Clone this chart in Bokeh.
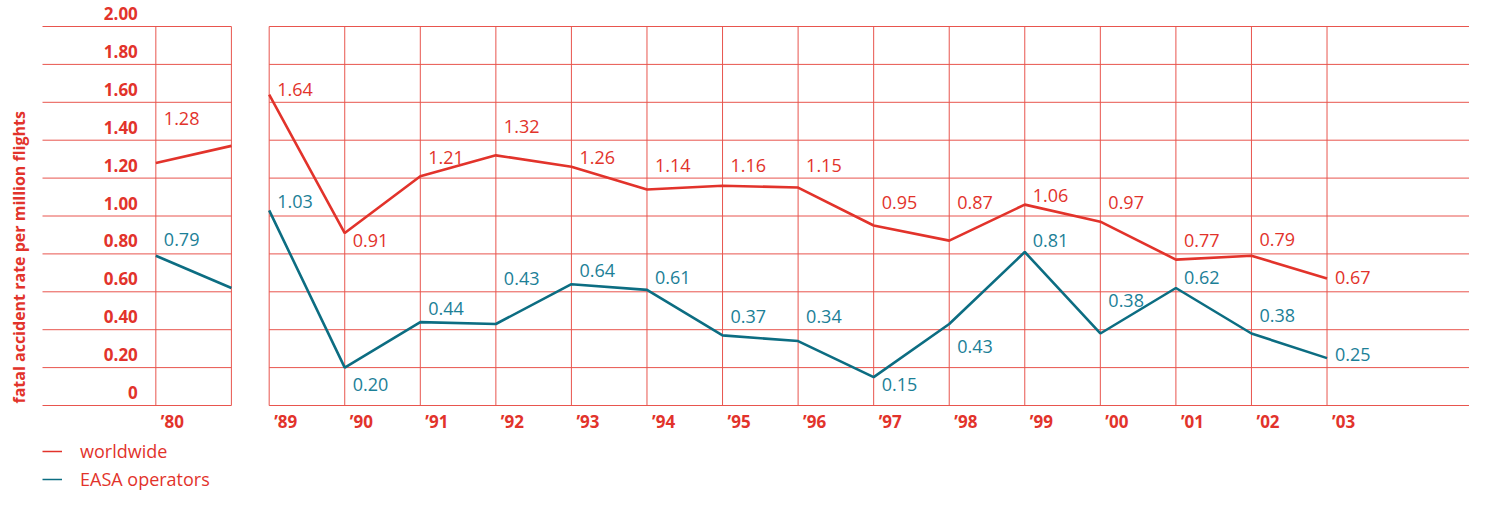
import numpy as np
from bokeh.plotting import figure
from bokeh.models import ColumnDataSource, Legend, LegendItem, Range1d
from bokeh.core.properties import value
from bokeh.embed import file_html
from bokeh.resources import INLINE

# ---------------- data ----------------
years_early = [1980, 1981]
worldwide_early = [1.28, 1.37]
easa_early = [0.79, 0.62]

years = [1989, 1990, 1991, 1992, 1993, 1994, 1995, 1996, 1997, 1998, 1999, 2000, 2001, 2002, 2003]
worldwide = [1.64, 0.91, 1.21, 1.32, 1.26, 1.14, 1.16, 1.15, 0.95, 0.87, 1.06, 0.97, 0.77, 0.79, 0.67]
easa = [1.03, 0.20, 0.44, 0.43, 0.64, 0.61, 0.37, 0.34, 0.15, 0.43, 0.81, 0.38, 0.62, 0.38, 0.25]

y_ticks = [0.0, 0.2, 0.4, 0.6, 0.8, 1.0, 1.2, 1.4, 1.6, 1.8, 2.0]
y_tick_labels = ["0", "0.20", "0.40", "0.60", "0.80", "1.00", "1.20", "1.40", "1.60", "1.80", "2.00"]
x_tick_years = [1980] + years
x_tick_labels = ["\u201980", "\u201989", "\u201990", "\u201991", "\u201992", "\u201993", "\u201994",
                 "\u201995", "\u201996", "\u201997", "\u201998", "\u201999", "\u201900", "\u201901",
                 "\u201902", "\u201903"]
series_names = ["worldwide", "EASA operators"]
y_title = "fatal accident rate per million flights"

# label placement offsets (screen px, + = down)
ww_label_dy_early = [-44]
ww_label_dy = [-5, 7, -19, -29, -9, -24, -20, -22, -23, -38, -9, -19, -19, -16, -1]
easa_label_dy_early = [-16]
easa_label_dy = [-9, 17, -14, -46, -14, -12, -19, -25, 7, 22, -12, -33, -11, -18, -4]

# ---------------- styling ----------------
RED = "#e2332b"
GRID = "#e8554e"
TEAL = "#0c6d82"
TEAL_TXT = "#1c8097"
FONT_NAME = "Open Sans"
FONT = value(FONT_NAME)

W, H = 1469, 492
PX_X = 75.56          # px per year step
PX_Y = 189.5          # px per unit
LEFT_EDGE_PX = 42     # grid left edge in canvas px
ZERO_PX = 405         # zero line in canvas px (from top)


def pos(y):
    # position on the broken x axis: early panel, gap, main panel
    return (y - 1980) if y < 1989 else 1.5 + (y - 1989)


x0 = -1.5 - LEFT_EDGE_PX / PX_X
y0 = -(H - ZERO_PX) / PX_Y

p = figure(width=W, height=H, output_backend="svg", toolbar_location=None,
           x_range=Range1d(x0, x0 + W / PX_X), y_range=Range1d(y0, y0 + H / PX_Y),
           x_axis_type=None, y_axis_type=None, min_border=0,
           outline_line_color=None, background_fill_color="white", border_fill_color="white")
p.xgrid.visible = False
p.ygrid.visible = False

# ---- grid ----
early_pos = [pos(y) for y in years_early]
main_pos = [pos(y) for y in years]
hx0 = [early_pos[0] - 1.5] * len(y_ticks) + [main_pos[0]] * len(y_ticks)
hx1 = [early_pos[-1]] * len(y_ticks) + [main_pos[-1] + 2] * len(y_ticks)
hy = y_ticks + y_ticks
p.segment(x0=hx0, y0=hy, x1=hx1, y1=hy, line_color=GRID, line_width=1)
vx = early_pos + main_pos
p.segment(x0=vx, y0=[y_ticks[0]] * len(vx), x1=vx, y1=[y_ticks[-1]] * len(vx),
          line_color=GRID, line_width=1)

# ---- lines ----
p.line(early_pos, worldwide_early, line_color=RED, line_width=2.6)
p.line(early_pos, easa_early, line_color=TEAL, line_width=2.6)
p.line(main_pos, worldwide, line_color=RED, line_width=2.6)
p.line(main_pos, easa, line_color=TEAL, line_width=2.6)

# ---- value labels ----
ww_src = ColumnDataSource(dict(
    x=[early_pos[0]] + main_pos,
    y=[worldwide_early[0]] + worldwide,
    t=["%.2f" % v for v in [worldwide_early[0]] + worldwide],
    dy=ww_label_dy_early + ww_label_dy))
ea_src = ColumnDataSource(dict(
    x=[early_pos[0]] + main_pos,
    y=[easa_early[0]] + easa,
    t=["%.2f" % v for v in [easa_early[0]] + easa],
    dy=easa_label_dy_early + easa_label_dy))
p.text(x="x", y="y", text="t", y_offset="dy", x_offset=8, source=ww_src,
       text_color=RED, text_font=FONT, text_font_size=value("18px"),
       text_align="left", text_baseline="middle")
p.text(x="x", y="y", text="t", y_offset="dy", x_offset=8, source=ea_src,
       text_color=TEAL_TXT, text_font=FONT, text_font_size=value("18px"),
       text_align="left", text_baseline="middle")

# ---- y tick labels ----
p.text(x=[early_pos[0]] * len(y_ticks), y=y_ticks, text=y_tick_labels, x_offset=-18, y_offset=-13,
       text_color=RED, text_font=FONT, text_font_size=value("17px"), text_font_style="bold",
       text_align="right", text_baseline="middle")

# ---- x tick labels ----
p.text(x=[pos(y) for y in x_tick_years], y=[y_ticks[0]] * len(x_tick_years), text=x_tick_labels,
       x_offset=5, y_offset=16, text_color=RED, text_font=FONT, text_font_size=value("17px"),
       text_font_style="bold", text_align="left", text_baseline="middle")

# ---- y title ----
p.text(x=[early_pos[0] - 1.5], y=[y_ticks[0]], text=[y_title], angle=np.pi / 2,
       x_offset=-23.5, y_offset=-2, text_color=RED, text_font=FONT, text_font_size=value("16px"),
       text_font_style="bold", text_align="left", text_baseline="middle")

# ---- legend (single-point lines: draw nothing in the plot, only legend glyphs) ----
lg_ww = p.line(early_pos[:1], worldwide_early[:1], line_color=RED, line_width=1.5)
lg_ea = p.line(early_pos[:1], easa_early[:1], line_color=TEAL, line_width=1.5)
legend = Legend(items=[LegendItem(label=series_names[0], renderers=[lg_ww]),
                       LegendItem(label=series_names[1], renderers=[lg_ea])],
                location=(LEFT_EDGE_PX, 1), orientation="vertical",
                glyph_width=20, glyph_height=20, label_height=20, spacing=4,
                label_standoff=18, padding=0, margin=0,
                border_line_color=None, background_fill_alpha=0,
                label_text_color=RED, label_text_font=FONT_NAME, label_text_font_size="18px")
p.add_layout(legend)

open("out.html", "w").write(file_html(p, INLINE))
